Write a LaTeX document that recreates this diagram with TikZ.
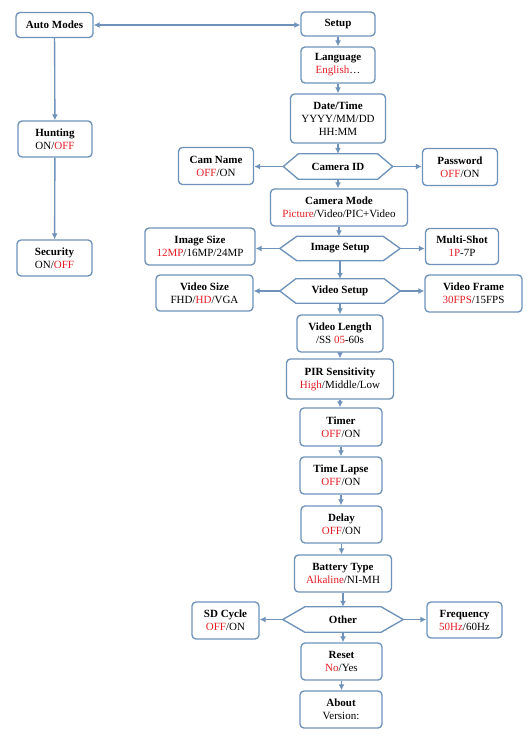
\documentclass[tikz,border=0pt]{standalone}
\usepackage{fontspec}
\setmainfont{Liberation Serif}
\usetikzlibrary{arrows.meta}
\definecolor{edge}{RGB}{110,146,186}
\definecolor{def}{RGB}{228,30,38}
\tikzset{
  box/.style={draw=edge, line width=1.35pt, rounded corners=4pt, fill=white,
    align=center, inner sep=0pt, font=\fontsize{11}{13}\selectfont},
  hexn/.style={align=center, inner sep=0pt, font=\fontsize{11}{13}\selectfont\bfseries},
  hexline/.style={draw=edge, line width=1.35pt, line join=miter},
  arr/.style={draw=edge, line width=1.35pt, -{Latex[length=6pt,width=6pt]}},
  darr/.style={draw=edge, line width=1.35pt, {Latex[length=6pt,width=6pt]}-{Latex[length=6pt,width=6pt]}},
}
\newcommand{\dv}[1]{\textcolor{def}{#1}}
\newcommand{\hexdraw}[2]{\draw[hexline] (#1.west) -- ([xshift=#2]#1.north west) -- ([xshift=-#2]#1.north east) -- (#1.east) -- ([xshift=-#2]#1.south east) -- ([xshift=#2]#1.south west) -- cycle;}
\begin{document}
\begin{tikzpicture}[x=1pt,y=-1pt]
\useasboundingbox (0,0) rectangle (527,737);
% left column
\node[box, minimum width=77pt, minimum height=25pt] (automodes) at (54.5,25) {\textbf{Auto Modes}};
\node[box, minimum width=74pt, minimum height=36pt] (hunting) at (55,139) {\textbf{Hunting}\\ON/\dv{OFF}};
\node[box, minimum width=75pt, minimum height=36pt] (security) at (54.5,258) {\textbf{Security}\\ON/\dv{OFF}};
% center column
\node[box, minimum width=74pt, minimum height=24pt] (setup) at (338,24) {\textbf{Setup}};
\node[box, minimum width=74pt, minimum height=36pt] (language) at (338,65) {\textbf{Language}\\\dv{English}…};
\node[box, minimum width=95pt, minimum height=49pt] (datetime) at (338,118.5) {\textbf{Date/Time}\\YYYY/MM/DD\\HH:MM};
\node[hexn, minimum width=109pt, minimum height=25pt] (camid) at (338,166.5) {Camera ID};
\node[box, minimum width=75pt, minimum height=37pt] (camname) at (216,166) {\textbf{Cam Name}\\\dv{OFF}/ON};
\node[box, minimum width=75pt, minimum height=37pt] (password) at (460,167) {\textbf{Password}\\\dv{OFF}/ON};
\node[box, minimum width=137pt, minimum height=37pt] (cammode) at (339,207.5) {\textbf{Camera Mode}\\\dv{Picture}/Video/PIC+Video};
\node[hexn, minimum width=120pt, minimum height=24pt] (imgsetup) at (340,248.5) {Image Setup};
\node[box, minimum width=110pt, minimum height=37pt] (imgsize) at (200,246.5) {\textbf{Image Size}\\\dv{12MP}/16MP/24MP};
\node[box, minimum width=73pt, minimum height=36pt] (multishot) at (462,246.5) {\textbf{Multi-Shot}\\\dv{1P}-7P};
\node[hexn, minimum width=120pt, minimum height=24pt] (vidsetup) at (340,291) {Video Setup};
\node[box, minimum width=97pt, minimum height=36pt] (vidsize) at (204.5,293) {\textbf{Video Size}\\FHD/\dv{HD}/VGA};
\node[box, minimum width=97pt, minimum height=37pt] (vidframe) at (473.5,293.5) {\textbf{Video Frame}\\\dv{30FPS}/15FPS};
\node[box, minimum width=86pt, minimum height=37pt] (vidlength) at (340,333.5) {\textbf{Video Length}\\/SS \dv{05}-60s};
\node[box, minimum width=107pt, minimum height=40pt] (pir) at (340,379) {\textbf{PIR Sensitivity}\\\dv{High}/Middle/Low};
\node[box, minimum width=82pt, minimum height=38pt] (timer) at (341,427) {\textbf{Timer}\\\dv{OFF}/ON};
\node[box, minimum width=82pt, minimum height=37pt] (timelapse) at (341,475.5) {\textbf{Time Lapse}\\\dv{OFF}/ON};
\node[box, minimum width=81pt, minimum height=37pt] (delay) at (341.5,524.5) {\textbf{Delay}\\\dv{OFF}/ON};
\node[box, minimum width=97pt, minimum height=37pt] (battery) at (343,573.5) {\textbf{Battery Type}\\\dv{Alkaline}/NI-MH};
\node[hexn, minimum width=120pt, minimum height=25pt] (other) at (343,619.5) {Other};
\node[box, minimum width=67pt, minimum height=37pt] (sdcycle) at (225.5,620.5) {\textbf{SD Cycle}\\\dv{OFF}/ON};
\node[box, minimum width=75pt, minimum height=36pt] (frequency) at (464.5,620) {\textbf{Frequency}\\\dv{50Hz}/60Hz};
\node[box, minimum width=81pt, minimum height=37pt] (reset) at (341.5,661.5) {\textbf{Reset}\\\dv{No}/Yes};
\node[box, minimum width=82pt, minimum height=37pt] (about) at (341,709.5) {\textbf{About}\\Version:};
% hexagons
\hexdraw{camid}{15pt}
\hexdraw{imgsetup}{17pt}
\hexdraw{vidsetup}{16pt}
\hexdraw{other}{22pt}
% connectors
\draw[darr] (automodes.east) -- (automodes.east -| setup.west);
\draw[arr] (automodes) -- (hunting);
\draw[arr] (hunting) -- (security);
\draw[arr] (setup) -- (language);
\draw[arr] (language) -- (datetime);
\draw[arr] (datetime) -- (camid);
\draw[arr] (camid.west) -- (camid.west -| camname.east);
\draw[arr] (camid.east) -- (camid.east -| password.west);
\draw[arr] (camid.south) -- (camid.south |- cammode.north);
\draw[arr] (cammode.south) -- (cammode.south |- imgsetup.north);
\draw[arr] (imgsetup.west) -- (imgsetup.west -| imgsize.east);
\draw[arr] (imgsetup.east) -- (imgsetup.east -| multishot.west);
\draw[arr] (imgsetup) -- (vidsetup);
\draw[arr] (vidsetup.west) -- (vidsetup.west -| vidsize.east);
\draw[arr] (vidsetup.east) -- (vidsetup.east -| vidframe.west);
\draw[arr] (vidsetup) -- (vidlength);
\draw[arr] (vidlength.south) -- (vidlength.south |- pir.north);
\draw[arr] (pir.south) -- (pir.south |- timer.north);
\draw[arr] (timer) -- (timelapse);
\draw[arr] (timelapse.south) -- (timelapse.south |- delay.north);
\draw[arr] (delay.south) -- (delay.south |- battery.north);
\draw[arr] (battery.south) -- (battery.south |- other.north);
\draw[arr] (other.west) -- (other.west -| sdcycle.east);
\draw[arr] (other.east) -- (other.east -| frequency.west);
\draw[arr] (other.south) -- (other.south |- reset.north);
\draw[arr] (reset.south) -- (reset.south |- about.north);
\end{tikzpicture}
\end{document}
